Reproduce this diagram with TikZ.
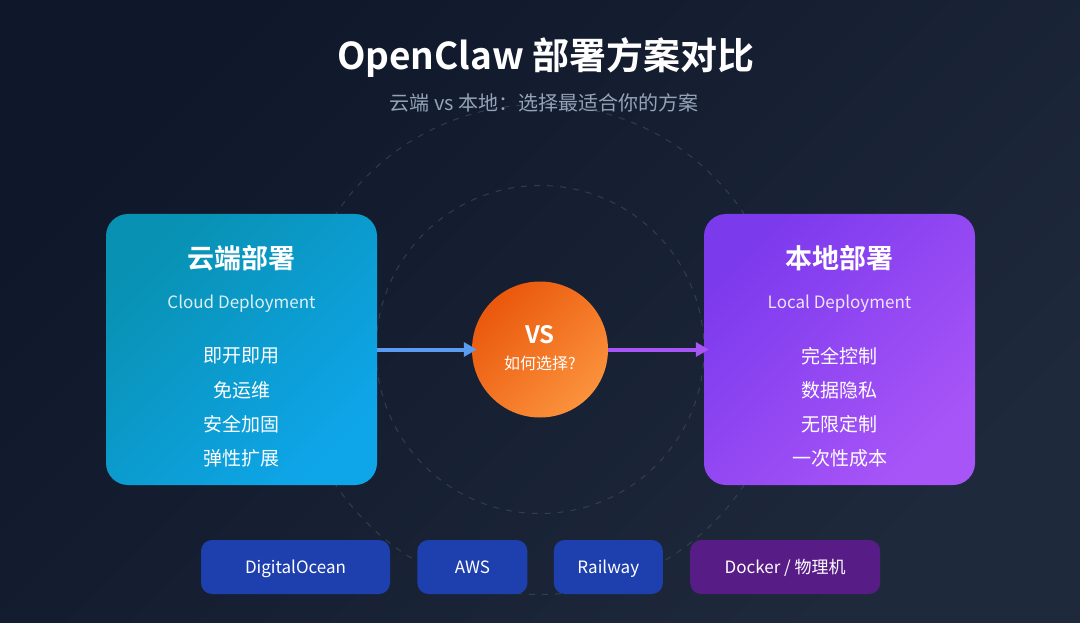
\documentclass[tikz,border=0pt]{standalone}
\usepackage{fontspec}
\setmainfont{Noto Sans CJK SC}[BoldFont={Noto Sans CJK SC Bold}]
\usetikzlibrary{positioning}
\usetikzlibrary{arrows.meta}
\definecolor{bgtop}{HTML}{0F172A}
\definecolor{bgbot}{HTML}{1E293B}
\definecolor{cloudA}{HTML}{0891B2}
\definecolor{cloudB}{HTML}{0EA5E9}
\definecolor{localA}{HTML}{7C3AED}
\definecolor{localB}{HTML}{A855F7}
\definecolor{vsA}{HTML}{EA580C}
\definecolor{vsB}{HTML}{FB923C}
\definecolor{subgray}{HTML}{94A3B8}
\definecolor{ringgray}{HTML}{475569}
\definecolor{arrowblue}{HTML}{5B9BF0}
\definecolor{arrowpurple}{HTML}{A855F7}
\definecolor{pillblue}{HTML}{1E40AF}
\definecolor{pillpurple}{HTML}{581C87}

\begin{document}
\begin{tikzpicture}[x=1pt, y=-1pt,
  card/.style 2 args={rounded corners=22pt, minimum width=271pt, minimum height=271pt,
    top color=#1, bottom color=#2, shading angle=45},
  ring/.style={draw=ringgray, line width=1pt, dash pattern=on 6pt off 7pt, opacity=0.55},
  head/.style={text=white, font=\bfseries\fontsize{27}{30}\selectfont},
  sub/.style={text=white, text opacity=0.85, text height=12pt, text depth=0pt,
    font=\fontsize{17}{20}\selectfont},
  item/.style={text=white, font=\fontsize{19}{22}\selectfont},
  pill/.style={rounded corners=11pt, minimum height=54pt, text=white,
    text height=12pt, text depth=0pt, font=\fontsize{17}{20}\selectfont},
  flow/.style={line width=4pt, -{Triangle[length=13pt,width=14pt]}, shorten >=-5pt}]

% background
\shade[top color=bgtop, bottom color=bgbot, shading angle=45] (0,0) rectangle (1080,623);
\useasboundingbox (0,0) rectangle (1080,623);

% heading
\node[text=white, font=\bfseries\fontsize{37}{42}\selectfont] (title) at (546,58) {OpenClaw 部署方案对比};
\node[text=subgray, font=\fontsize{20}{24}\selectfont] (subtitle) at (544,103) {云端 vs 本地：选择最适合你的方案};

% dashed rings
\draw[ring] (540,349.5) circle (164);
\draw[ring] (540,349.5) circle (245);

% cards
\node[card={cloudA}{cloudB}] (cloud) at (241.5,349.5) {};
\node[card={localA}{localB}] (local) at (839.5,349.5) {};

\node[head] (cloudhead) at (241.5,258) {云端部署};
\node[sub] (cloudsub) at (241.5,302) {Cloud Deployment};
\foreach \t [count=\i] in {即开即用,免运维,安全加固,弹性扩展}
  \node[item] (cloud\i) at (241.5,322+34*\i) {\t};

\node[head] (localhead) at (839.5,258) {本地部署};
\node[sub] (localsub) at (839.5,302) {Local Deployment};
\foreach \t [count=\i] in {完全控制,数据隐私,无限定制,一次性成本}
  \node[item] (local\i) at (839.5,322+34*\i) {\t};

% vs circle
\node[circle, minimum size=136pt, top color=vsA, bottom color=vsB, shading angle=45] (vs) at (540,349.5) {};
\node[text=white, font=\bfseries\fontsize{24}{26}\selectfont] (vstext) at (540,335) {VS};
\node[text=white, font=\fontsize{16}{18}\selectfont] (vsask) at (540,363) {如何选择?};

% arrows
\draw[flow, arrowblue] (cloud) -- (vs);
\draw[flow, arrowpurple] (vs) -- (local);

% platforms
\node[pill, fill=pillblue, minimum width=189pt] (do) at (295.5,567) {DigitalOcean};
\node[pill, fill=pillblue, minimum width=110pt, right=27pt of do] (aws) {AWS};
\node[pill, fill=pillblue, minimum width=109pt, right=26pt of aws] (railway) {Railway};
\node[pill, fill=pillpurple, minimum width=190pt, right=27pt of railway] (docker) {Docker / 物理机};

\end{tikzpicture}
\end{document}
